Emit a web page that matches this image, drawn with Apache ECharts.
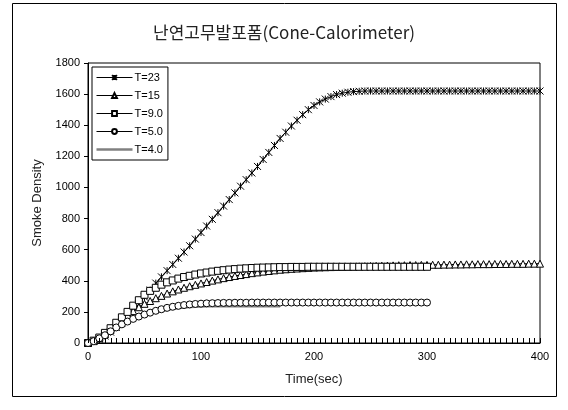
<!DOCTYPE html>
<html>
<head>
<meta charset="utf-8">
<script src="https://cdn.jsdelivr.net/npm/echarts@6/dist/echarts.min.js"></script>
<style>
  html, body { margin: 0; padding: 0; background: #fff; }
  #smokeChart { width: 568px; height: 410px; }
</style>
</head>
<body>
<div id="smokeChart"></div>
<script>
// time axis (sec), 5 s sampling
const times = [
  0, 5, 10, 15, 20, 25, 30, 35, 40, 45, 50, 55, 60, 65, 70, 75, 80, 85, 90, 95,
  100, 105, 110, 115, 120, 125, 130, 135, 140, 145, 150, 155, 160, 165, 170, 175, 180, 185, 190, 195,
  200, 205, 210, 215, 220, 225, 230, 235, 240, 245, 250, 255, 260, 265, 270, 275, 280, 285, 290, 295,
  300, 305, 310, 315, 320, 325, 330, 335, 340, 345, 350, 355, 360, 365, 370, 375, 380, 385, 390, 395,
  400
];
const seriesNames = ['T=23', 'T=15', 'T=9.0', 'T=5.0', 'T=4.0'];

const t23 = [
  0, 10, 25, 45, 70, 100, 130, 167, 205, 250,
  295, 340, 385, 425, 465, 505, 545, 585, 625, 668,
  710, 752, 795, 838, 880, 922, 965, 1008, 1050, 1093,
  1135, 1180, 1225, 1270, 1315, 1355, 1395, 1432, 1468, 1500,
  1527, 1550, 1568, 1584, 1597, 1606, 1612, 1616, 1618, 1620,
  1620, 1620, 1620, 1620, 1620, 1620, 1620, 1620, 1620, 1620,
  1620, 1620, 1620, 1620, 1620, 1620, 1620, 1620, 1620, 1620,
  1620, 1620, 1620, 1620, 1620, 1620, 1620, 1620, 1620, 1620,
  1620
];
const t15 = [
  0, 12, 30, 55, 85, 115, 148, 180, 205, 230,
  252, 270, 288, 303, 318, 332, 344, 355, 365, 374,
  383, 392, 401, 409, 417, 424, 431, 437, 443, 449,
  454, 459, 463, 467, 471, 474, 477, 479, 481, 483,
  485, 486, 487, 488, 489, 490, 491, 492, 493, 494,
  495, 496, 497, 498, 499, 500, 500, 501, 501, 502,
  502, 503, 503, 504, 504, 505, 505, 506, 506, 507,
  507, 507, 508, 508, 508, 509, 509, 509, 510, 510,
  510
];
const t9 = [
  0, 15, 35, 65, 95, 130, 165, 200, 240, 275,
  310, 335, 355, 375, 390, 402, 414, 424, 432, 440,
  447, 453, 459, 464, 468, 472, 475, 478, 480, 482,
  484, 485, 486, 487, 488, 488, 489, 489, 489, 490,
  490, 490, 490, 490, 490, 490, 490, 490, 490, 490,
  490, 490, 490, 490, 490, 490, 490, 490, 490, 490,
  490
];
const t5 = [
  0, 12, 30, 50, 75, 100, 120, 138, 155, 170,
  183, 195, 207, 217, 226, 233, 239, 244, 248, 251,
  253, 255, 256, 257, 258, 258, 259, 259, 259, 260,
  260, 260, 260, 260, 260, 260, 260, 260, 260, 260,
  260, 260, 260, 260, 260, 260, 260, 260, 260, 260,
  260, 260, 260, 260, 260, 260, 260, 260, 260, 260,
  260
];
const t4 = [
  0, 10, 28, 48, 70, 93, 113, 131, 147, 161,
  174, 186, 196, 205, 212, 218, 223, 227, 230, 232,
  233, 234, 234, 235, 235, 235, 235, 235, 235, 235,
  235, 235, 235, 235, 235
];

const xTicks = [0, 100, 200, 300, 400];
const yTicks = [0, 200, 400, 600, 800, 1000, 1200, 1400, 1600, 1800];

const pair = (vals) => vals.map((v, i) => [times[i], v]);

const asterisk = 'path://M0,0L10,10M10,0L0,10M5,0L5,10';
const markStyle = { color: '#fff', borderColor: '#000', borderWidth: 1 };

const frame = {
  type: 'rect',
  shape: { x: 12.5, y: 3.5, width: 544, height: 393 },
  style: { fill: null, stroke: '#000', lineWidth: 1 },
  silent: true
};

const chart = echarts.init(document.getElementById('smokeChart'));
chart.setOption({
  animation: false,
  graphic: [frame],
  title: {
    text: '난연고무발포폼(Cone-Calorimeter)',
    left: 'center',
    top: 19,
    textStyle: {
      fontFamily: 'Noto Sans CJK KR',
      fontWeight: 'normal',
      fontSize: 17,
      color: '#222'
    }
  },
  legend: {
    data: seriesNames.slice(0, 4).concat([{
      name: seriesNames[4],
      icon: 'path://M0,0L40,0L40,3L0,3Z'
    }]),
    orient: 'vertical',
    left: 92,
    top: 67,
    itemWidth: 36,
    itemHeight: 6,
    itemGap: 7,
    padding: [5, 5, 5, 4],
    borderColor: '#000',
    borderWidth: 1,
    backgroundColor: '#fff',
    lineStyle: { width: 1 },
    textStyle: { fontFamily: 'Liberation Sans', fontSize: 11, color: '#000', padding: [0, 0, 0, -3] }
  },
  grid: {
    left: 88,
    top: 63,
    right: 28,
    bottom: 67,
    show: true,
    borderColor: '#000',
    borderWidth: 1
  },
  xAxis: {
    type: 'value',
    min: xTicks[0],
    max: xTicks[xTicks.length - 1],
    interval: 100,
    name: 'Time(sec)',
    nameLocation: 'middle',
    nameGap: 30,
    nameTextStyle: { fontFamily: 'Liberation Sans', fontSize: 13, color: '#222' },
    axisLine: { show: true, lineStyle: { color: '#000' } },
    axisTick: { show: false },
    axisLabel: { fontFamily: 'Liberation Sans', fontSize: 11, color: '#000', margin: 8 },
    splitLine: { show: false }
  },
  yAxis: {
    type: 'value',
    min: yTicks[0],
    max: yTicks[yTicks.length - 1],
    interval: 200,
    name: 'Smoke Density',
    nameLocation: 'middle',
    nameGap: 44,
    nameTextStyle: { fontFamily: 'Liberation Sans', fontSize: 13, color: '#222' },
    axisLine: { show: true, lineStyle: { color: '#000' } },
    axisTick: { show: true, length: 4, lineStyle: { color: '#000' } },
    axisLabel: { fontFamily: 'Liberation Sans', fontSize: 11, color: '#000', margin: 8, formatter: (v) => String(v) },
    splitLine: { show: false }
  },
  series: [
    {
      name: seriesNames[0], type: 'line', data: pair(t23),
      symbol: asterisk, symbolSize: 7, showAllSymbol: true,
      lineStyle: { color: '#000', width: 1 },
      itemStyle: { color: '#000', borderColor: '#000', borderWidth: 1 }
    },
    {
      name: seriesNames[1], type: 'line', data: pair(t15),
      symbol: 'triangle', symbolSize: 7, showAllSymbol: true,
      lineStyle: { color: '#000', width: 1 },
      itemStyle: markStyle
    },
    {
      name: seriesNames[2], type: 'line', data: pair(t9),
      symbol: 'rect', symbolSize: 7, showAllSymbol: true,
      lineStyle: { color: '#000', width: 1 },
      itemStyle: markStyle
    },
    {
      name: seriesNames[3], type: 'line', data: pair(t5),
      symbol: 'circle', symbolSize: 7, showAllSymbol: true,
      lineStyle: { color: '#000', width: 1 },
      itemStyle: markStyle
    },
    {
      name: seriesNames[4], type: 'line', data: pair(t4),
      symbol: 'none',
      lineStyle: { color: '#808080', width: 2 },
      itemStyle: { color: '#808080' }
    }
  ]
});

// inward 5 s marks on the time axis, placed through the chart's own scale
const tickMarks = times.map((t) => {
  const p = chart.convertToPixel({ xAxisIndex: 0, yAxisIndex: 0 }, [t, 0]);
  const x = Math.round(p[0]) + 0.5;
  return {
    type: 'line',
    shape: { x1: x, y1: p[1], x2: x, y2: p[1] - 5 },
    style: { stroke: '#000', lineWidth: 1 },
    silent: true,
    z: 100
  };
});
chart.setOption({ graphic: [frame].concat(tickMarks) });
</script>
</body>
</html>
